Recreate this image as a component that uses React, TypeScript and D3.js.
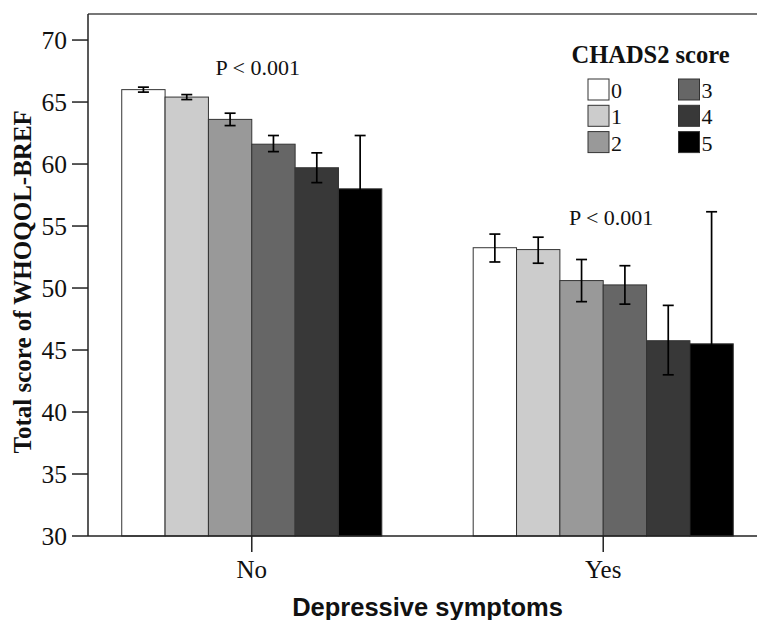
import React from "react";
import * as d3 from "d3";

const groups = ["No", "Yes"];
const scores = ["0", "1", "2", "3", "4", "5"];
const meansNo = [66.0, 65.4, 63.6, 61.6, 59.7, 58.0];
const lowNo = [65.8, 65.2, 63.1, 61.0, 58.5, 53.8];
const highNo = [66.2, 65.6, 64.1, 62.3, 60.9, 62.3];
const meansYes = [53.25, 53.1, 50.6, 50.25, 45.75, 45.5];
const lowYes = [52.1, 52.0, 48.9, 48.7, 43.0, 34.9];
const highYes = [54.35, 54.1, 52.3, 51.8, 48.6, 56.15];
const fills = ["#ffffff", "#cccccc", "#999999", "#666666", "#383838", "#000000"];
const yTicks = [30, 35, 40, 45, 50, 55, 60, 65, 70];
const pTexts = ["P < 0.001", "P < 0.001"];
const pValues = [67.2, 55.1];

const W = 757;
const H = 620;
const serif = "'Liberation Serif', 'Times New Roman', serif";
const sans = "'Liberation Sans', Arial, sans-serif";

export default function App() {
  const x = d3.scaleBand<string>().domain(groups).range([88, 767]).paddingInner(0.26).paddingOuter(0.096);
  const xs = d3.scaleBand<string>().domain(scores).range([0, x.bandwidth()]);
  const y = d3.scaleLinear().domain([30, 72.1]).range([536, 14]);
  const data = [
    { g: "No", m: meansNo, lo: lowNo, hi: highNo },
    { g: "Yes", m: meansYes, lo: lowYes, hi: highYes },
  ];
  const cap = 5.5;
  return (
    <svg width={W} height={H} style={{ position: "absolute", left: 0, top: 0, background: "#fff" }}>
      <rect x={0} y={0} width={W} height={H} fill="#fff" />
      {data.map((d) => (
        <g key={d.g}>
          {d.m.map((v, i) => {
            const bx = (x(d.g) as number) + (xs(scores[i]) as number);
            return (
              <rect key={i} x={bx} y={y(v)} width={xs.bandwidth()} height={y(30) - y(v)}
                fill={fills[i]} stroke="#333" strokeWidth={1} />
            );
          })}
          {d.m.map((v, i) => {
            const cx = (x(d.g) as number) + (xs(scores[i]) as number) + xs.bandwidth() / 2;
            return (
              <g key={"e" + i} stroke="#000" strokeWidth={1.7}>
                <line x1={cx} x2={cx} y1={y(d.hi[i])} y2={y(d.lo[i])} />
                <line x1={cx - cap} x2={cx + cap} y1={y(d.hi[i])} y2={y(d.hi[i])} />
                <line x1={cx - cap} x2={cx + cap} y1={y(d.lo[i])} y2={y(d.lo[i])} />
              </g>
            );
          })}
        </g>
      ))}
      {/* frame */}
      <line x1={88} x2={W} y1={y(72.1)} y2={y(72.1)} stroke="#777" strokeWidth={2} />
      <line x1={88} x2={88} y1={y(72.1)} y2={y(30)} stroke="#222" strokeWidth={1.5} />
      <line x1={88} x2={W} y1={y(30)} y2={y(30)} stroke="#222" strokeWidth={1.5} />
      {yTicks.map((t) => (
        <g key={t}>
          <line x1={72} x2={88} y1={y(t)} y2={y(t)} stroke="#222" strokeWidth={1.5} />
          <text x={67} y={y(t)} dy="0.36em" textAnchor="end" fontFamily={serif} fontSize={25.5} fill="#111">{t}</text>
        </g>
      ))}
      {groups.map((g) => {
        const cx = (x(g) as number) + x.bandwidth() / 2;
        return (
          <g key={g}>
            <line x1={cx} x2={cx} y1={y(30)} y2={y(30) + 16} stroke="#222" strokeWidth={1.5} />
            <text x={cx} y={578} textAnchor="middle" fontFamily={serif} fontSize={25} fill="#111">{g}</text>
          </g>
        );
      })}
      {groups.map((g, i) => (
        <text key={"p" + g} x={(x(g) as number) + x.bandwidth() / 2 + (i === 0 ? 6 : 8)} y={y(pValues[i])}
          textAnchor="middle" fontFamily={serif} fontSize={22} fill="#111">{pTexts[i]}</text>
      ))}
      <text x={(88 + 767) / 2} y={616} textAnchor="middle" fontFamily={sans} fontWeight="bold" fontSize={25.5} fill="#111">Depressive symptoms</text>
      <text transform={`translate(31, ${y(50.5)}) rotate(-90)`} textAnchor="middle" fontFamily={serif} fontWeight="bold" fontSize={25} fill="#111">Total score of WHOQOL-BREF</text>
      {/* legend */}
      <text x={650.5} y={63} textAnchor="middle" fontFamily={serif} fontWeight="bold" fontSize={24.5} fill="#111">CHADS2 score</text>
      {scores.map((s, i) => {
        const col = Math.floor(i / 3);
        const row = i % 3;
        const lx = 588 + col * 90.5;
        const ly = 79 + row * 26.3;
        return (
          <g key={"l" + s}>
            <rect x={lx} y={ly} width={21} height={21} fill={fills[i]} stroke="#333" strokeWidth={1} />
            <text x={lx + 23} y={ly + 19} fontFamily={serif} fontSize={22} fill="#111">{s}</text>
          </g>
        );
      })}
    </svg>
  );
}
